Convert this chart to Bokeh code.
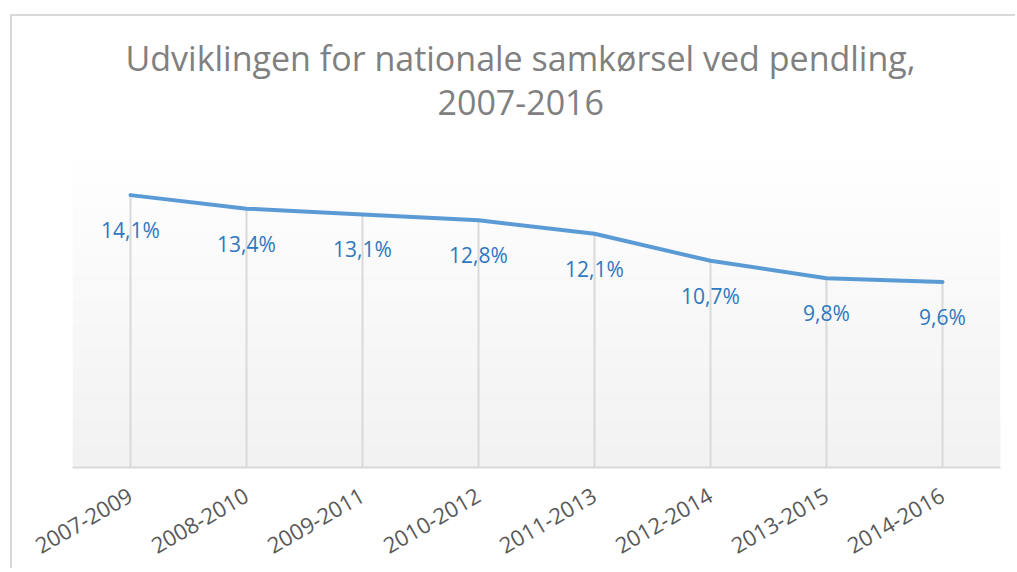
import math
import numpy as np
from bokeh.plotting import figure
from bokeh.models import Range1d, FixedTicker, Title
from bokeh.core.properties import value
from bokeh.embed import file_html
from bokeh.resources import INLINE

# ---- data ----
categories = ["2007-2009", "2008-2010", "2009-2011", "2010-2012",
              "2011-2013", "2012-2014", "2013-2015", "2014-2016"]
shares = [14.1, 13.4, 13.1, 12.8, 12.1, 10.7, 9.8, 9.6]
title_lines = ["Udviklingen for nationale samkørsel ved pendling,", "2007-2016"]

x = list(range(len(categories)))
labels = [f"{v:.1f}".replace(".", ",") + "%" for v in shares]
zeros = [0] * len(shares)

x_lo, x_hi = -0.5, len(categories) - 0.5
y_lo, y_axis_max = 0, 16          # plot-area extent (gradient band)
y_view_max = 18.17                # headroom so titles sit close to the plot

p = figure(width=1005, height=554,
           x_range=Range1d(x_lo, x_hi), y_range=Range1d(y_lo, y_view_max),
           output_backend="svg", toolbar_location=None,
           min_border_left=60, min_border_right=17,
           min_border_bottom=103, min_border_top=100)
p.title = None
p.outline_line_color = None
p.background_fill_color = "white"
p.border_fill_color = "white"
p.xgrid.visible = False
p.ygrid.visible = False
p.yaxis.visible = False

# plot-area gradient (white at top -> light gray at bottom)
n = 128
shade = np.linspace(242, 255, n).astype(np.uint8)
img = np.empty((n, 1), dtype=np.uint32)
v = img.view(dtype=np.uint8).reshape((n, 1, 4))
v[:, 0, 0] = shade
v[:, 0, 1] = shade
v[:, 0, 2] = shade
v[:, 0, 3] = 255
p.image_rgba(image=[img], x=x_lo, y=y_lo, dw=x_hi - x_lo, dh=y_axis_max - y_lo)

# drop lines
p.segment(x0=x, y0=zeros, x1=x, y1=shares, line_color="#d9d9d9", line_width=2)

# series line
p.line(x, shares, line_color="#5B9BD5", line_width=4,
       line_cap="round", line_join="round")

# data labels
p.text(x=x, y=shares, text=labels, text_font=value("Open Sans"),
       text_font_size="21px", text_color="#2E78C0",
       text_align="center", text_baseline="middle", y_offset=35)

ax = p.xaxis[0]
ax.ticker = FixedTicker(ticks=x)
ax.major_label_overrides = {i: c for i, c in zip(x, categories)}
ax.major_label_orientation = math.pi / 6
ax.major_tick_line_color = None
ax.minor_tick_line_color = None
ax.axis_line_color = "#d9d9d9"
ax.axis_line_width = 2
ax.major_label_text_font = "Open Sans"
ax.major_label_text_font_size = "22px"
ax.major_label_text_color = "#595959"
ax.major_label_standoff = 20

# two-line title (added nearest-first)
for txt, so, off in [(title_lines[1], 4, 365), (title_lines[0], 9, 53)]:
    p.add_layout(Title(text=txt, align="left", offset=off, text_font="Open Sans",
                       text_font_size="34px", text_font_style="normal",
                       text_color="#808080", standoff=so), "above")

p.styles = {"border-top": "2px solid #d9d9d9", "border-left": "2px solid #d9d9d9"}
p.margin = (14, 0, 0, 10)

open("out.html", "w").write(file_html(p, INLINE))
